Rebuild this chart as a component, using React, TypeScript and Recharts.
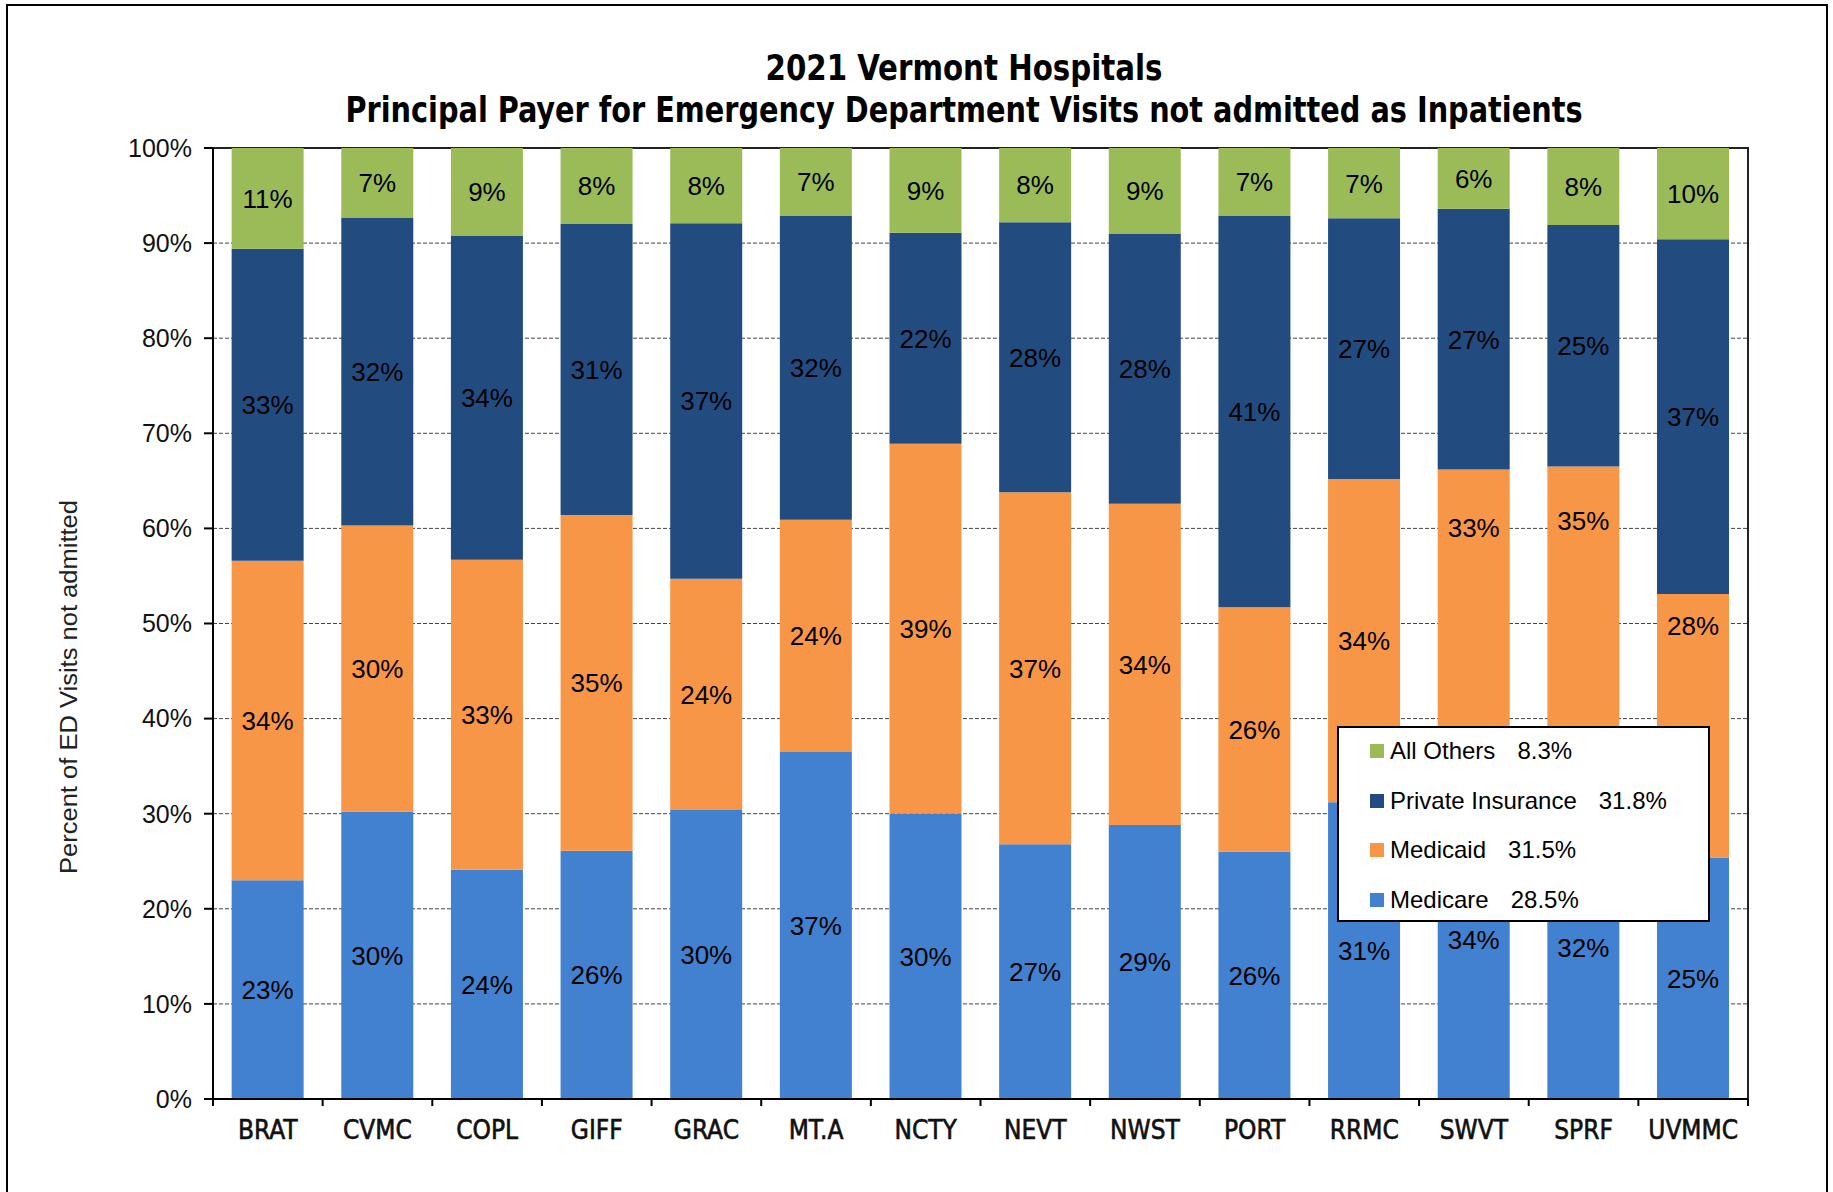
import React from 'react'
import {
  BarChart,
  Bar,
  XAxis,
  YAxis,
  CartesianGrid,
  Legend,
  LabelList,
  ReferenceArea,
} from 'recharts'

const hospitals = ['BRAT', 'CVMC', 'COPL', 'GIFF', 'GRAC', 'MT.A', 'NCTY', 'NEVT', 'NWST', 'PORT', 'RRMC', 'SWVT', 'SPRF', 'UVMMC']
const medicare = [23.0, 30.2, 24.1, 26.1, 30.4, 36.5, 30.0, 26.8, 28.8, 26.0, 31.2, 33.6, 31.9, 25.4]
const medicaid = [33.6, 30.1, 32.6, 35.3, 24.3, 24.4, 38.9, 37.0, 33.8, 25.7, 34.0, 32.6, 34.6, 27.7]
const privateIns = [32.8, 32.4, 34.1, 30.6, 37.4, 32.0, 22.2, 28.4, 28.4, 41.2, 27.4, 27.4, 25.4, 37.3]
const allOthers = [10.6, 7.3, 9.2, 8.0, 7.9, 7.1, 8.9, 7.8, 9.0, 7.1, 7.4, 6.4, 8.1, 9.6]

const seriesKeys = ['medicare', 'medicaid', 'privateIns', 'allOthers']
const seriesNames = ['Medicare', 'Medicaid', 'Private Insurance', 'All Others']
const seriesColors = ['#4281CF', '#F79646', '#224C80', '#9BBB59']
const legendShares = ['28.5%', '31.5%', '31.8%', '8.3%']
const yTicks = [0, 10, 20, 30, 40, 50, 60, 70, 80, 90, 100]

// Medicaid labels that were moved up out of the legend's way (value on y axis)
const medicaidLabelAt: Record<string, number> = { SWVT: 60.1, SPRF: 60.8, UVMMC: 49.8 }

const data = hospitals.map((name, i) => ({
  name,
  medicare: medicare[i],
  medicaid: medicaid[i],
  privateIns: privateIns[i],
  allOthers: allOthers[i],
}))

// layout (page pixels)
const W = 1833
const H = 1192
const PLOT_LEFT = 213
const PLOT_RIGHT = 1748
const PLOT_TOP = 148
const PLOT_BOTTOM = 1099
const Y_AXIS_W = 150
const X_AXIS_H = 60
const BAND = (PLOT_RIGHT - PLOT_LEFT) / hospitals.length
const SANS = "'Liberation Sans', Arial, sans-serif"
const NARROW = "'Liberation Sans Narrow', 'DejaVu Sans Condensed', sans-serif"

const XTick = (props: any) => {
  const { x, index, payload } = props
  const last = index === hospitals.length - 1
  return (
    <g>
      <line x1={x - BAND / 2} x2={x - BAND / 2} y1={PLOT_BOTTOM} y2={PLOT_BOTTOM + 7} stroke="#000" strokeWidth={2} />
      {last && (
        <line x1={x + BAND / 2} x2={x + BAND / 2} y1={PLOT_BOTTOM} y2={PLOT_BOTTOM + 7} stroke="#000" strokeWidth={2} />
      )}
      <text
        x={x}
        y={PLOT_BOTTOM + 40}
        textAnchor="middle"
        fontFamily={NARROW}
        fontSize={26}
        fill="#111"
        stroke="#111"
        strokeWidth={0.6}
      >
        {payload.value}
      </text>
    </g>
  )
}

const makeLabel = (series: number) => (props: any) => {
  const vb = props.viewBox || props
  const { index, value } = props
  const x = Number(vb.x)
  const w = Number(vb.width)
  const top = Math.min(Number(vb.y), Number(vb.y) + Number(vb.height))
  const h = Math.abs(Number(vb.height))
  let cy = top + h / 2
  const anchor = series === 1 ? medicaidLabelAt[hospitals[index]] : undefined
  if (anchor !== undefined) {
    const segTop = medicare[index] + medicaid[index]
    cy = top + (h * (segTop - anchor)) / medicaid[index]
  }
  return (
    <text x={x + w / 2} y={cy} dy="0.36em" textAnchor="middle" fontFamily={SANS} fontSize={26} fill="#000">
      {`${Math.round(Number(value))}%`}
    </text>
  )
}

const LegendBox = () => {
  const order = [3, 2, 1, 0]
  return (
    <div
      style={{
        width: 373,
        height: 196,
        boxSizing: 'border-box',
        border: '2px solid #000',
        background: '#fff',
        position: 'relative',
        fontFamily: SANS,
        fontSize: 24,
        color: '#000',
      }}
    >
      {order.map((s, row) => (
        <div
          key={s}
          style={{
            position: 'absolute',
            left: 31,
            top: 23 + row * 49.5 - 15,
            height: 30,
            display: 'flex',
            alignItems: 'center',
            whiteSpace: 'nowrap',
          }}
        >
          <span style={{ width: 14, height: 14, background: seriesColors[s], display: 'inline-block', marginRight: 6 }} />
          <span>{seriesNames[s]}</span>
          <span style={{ marginLeft: 22 }}>{legendShares[s]}</span>
        </div>
      ))}
    </div>
  )
}

export default function App() {
  return (
    <div style={{ position: 'fixed', left: 0, top: 0, width: W, height: H, overflow: 'hidden', background: '#fff' }}>
      <div
        style={{
          position: 'absolute',
          left: 6,
          top: 4,
          width: 1822,
          height: 1300,
          boxSizing: 'border-box',
          border: '2px solid #000',
        }}
      />
      <div style={{ position: 'absolute', left: 0, top: 0 }}>
        <BarChart
          width={W}
          height={H}
          data={data}
          barCategoryGap="17%"
          margin={{ top: PLOT_TOP, right: W - PLOT_RIGHT, bottom: H - PLOT_BOTTOM - X_AXIS_H, left: PLOT_LEFT - Y_AXIS_W }}
        >
          <CartesianGrid vertical={false} stroke="#444" strokeDasharray="4 2" />
          <XAxis
            dataKey="name"
            height={X_AXIS_H}
            interval={0}
            tickLine={false}
            axisLine={{ stroke: '#000', strokeWidth: 2 }}
            tick={<XTick />}
          />
          <YAxis
            width={Y_AXIS_W}
            domain={[0, 100]}
            ticks={yTicks}
            interval={0}
            tickFormatter={(v: number) => `${v}%`}
            tickSize={9}
            tickMargin={12}
            tickLine={{ stroke: '#000', strokeWidth: 2 }}
            axisLine={{ stroke: '#000', strokeWidth: 2 }}
            tick={{ fill: '#111', fontSize: 25, fontFamily: SANS }}
          />
          {seriesKeys.map((key, i) => (
            <Bar key={key} dataKey={key} name={seriesNames[i]} stackId="a" fill={seriesColors[i]} isAnimationActive={false}>
              <LabelList dataKey={key} content={makeLabel(i)} />
            </Bar>
          ))}
          <ReferenceArea y1={0} y2={100} fill="none" stroke="#222" strokeWidth={2} ifOverflow="visible" />
          <Legend
            layout="vertical"
            align="center"
            verticalAlign="middle"
            content={() => <LegendBox />}
            wrapperStyle={{ left: 1337, top: 726, width: 373, height: 196 }}
          />
        </BarChart>
      </div>
      <svg width={W} height={H} style={{ position: 'absolute', left: 0, top: 0, pointerEvents: 'none' }}>
        <g fontFamily={NARROW} fontWeight="bold" fontSize={36} fill="#000">
          <text x={964} y={80} textAnchor="middle" textLength={397} lengthAdjust="spacingAndGlyphs">
            2021 Vermont Hospitals
          </text>
          <text x={964} y={122} textAnchor="middle" textLength={1237} lengthAdjust="spacingAndGlyphs">
            Principal Payer for Emergency Department Visits not admitted as Inpatients
          </text>
        </g>
        <text
          x={77}
          y={687}
          transform="rotate(-90 77 687)"
          textAnchor="middle"
          fontFamily={SANS}
          fontSize={23}
          fill="#222"
          textLength={374}
          lengthAdjust="spacingAndGlyphs"
        >
          Percent of ED Visits not admitted
        </text>
      </svg>
    </div>
  )
}
